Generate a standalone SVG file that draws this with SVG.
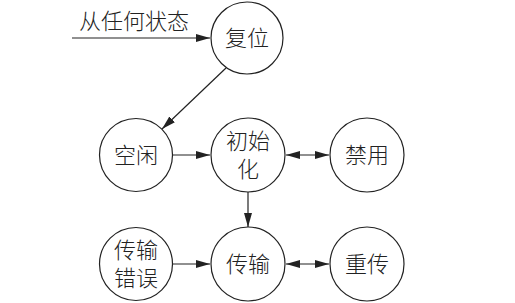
<svg xmlns="http://www.w3.org/2000/svg" width="515" height="303" viewBox="0 0 515 303">
<style>
.n{fill:#fff;stroke:#222;stroke-width:1.2}
.t{font-family:"Liberation Sans","Noto Sans CJK SC",sans-serif;font-size:22px;font-weight:300;fill:#222;text-anchor:middle;dominant-baseline:central}
.c{stroke:#222;stroke-width:1.2;fill:none}
</style>
<defs>
<marker id="a" viewBox="0 0 14 8" refX="14" refY="4" markerWidth="14" markerHeight="8" markerUnits="userSpaceOnUse" orient="auto-start-reverse">
<path d="M0,0L14,4L0,8z" fill="#222"/>
</marker>
</defs>
<rect width="515" height="303" fill="#fff"/>
<g id="connectors">
<line class="c" x1="72" y1="38" x2="210" y2="38" marker-end="url(#a)"/>
<text class="t" x="134" y="21">从任何状态</text>
<line class="c" x1="226" y1="68" x2="162" y2="129" marker-end="url(#a)"/>
<line class="c" x1="173" y1="155" x2="210" y2="155" marker-end="url(#a)"/>
<line class="c" x1="286" y1="155" x2="329" y2="155" marker-start="url(#a)" marker-end="url(#a)"/>
<line class="c" x1="248" y1="192" x2="248" y2="227" marker-end="url(#a)"/>
<line class="c" x1="173" y1="264" x2="210" y2="264" marker-end="url(#a)"/>
<line class="c" x1="286" y1="264" x2="329" y2="264" marker-start="url(#a)" marker-end="url(#a)"/>
</g>
<g id="reset"><circle class="n" cx="247" cy="38" r="36"/><text class="t" x="247" y="38">复位</text></g>
<g id="idle"><circle class="n" cx="136" cy="155" r="36.5"/><text class="t" x="136" y="155">空闲</text></g>
<g id="init"><circle class="n" cx="248" cy="155" r="37"/><text class="t" x="248" y="141"><tspan x="248">初始</tspan><tspan x="248" dy="28">化</tspan></text></g>
<g id="disabled"><circle class="n" cx="367" cy="155" r="37"/><text class="t" x="367" y="155">禁用</text></g>
<g id="txerr"><circle class="n" cx="136" cy="264" r="36.5"/><text class="t" x="136" y="250"><tspan x="136">传输</tspan><tspan x="136" dy="28">错误</tspan></text></g>
<g id="tx"><circle class="n" cx="248" cy="264" r="37"/><text class="t" x="248" y="264">传输</text></g>
<g id="retx"><circle class="n" cx="367" cy="264" r="37"/><text class="t" x="367" y="264">重传</text></g>
</svg>
